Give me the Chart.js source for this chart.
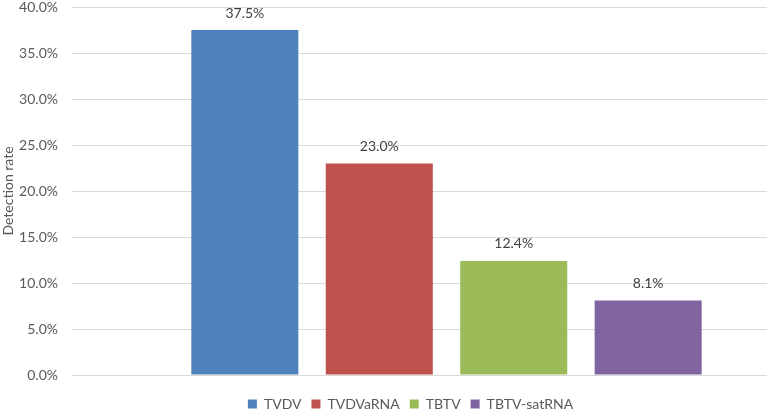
<!DOCTYPE html>
<html>
<head>
<meta charset="utf-8">
<script src="https://cdn.jsdelivr.net/npm/chart.js@4/dist/chart.umd.min.js"></script>
<style>
  html, body { margin: 0; padding: 0; background: #fff; overflow: hidden; }
  #wrap { width: 822px; height: 414px; position: relative; }
</style>
</head>
<body>
<div id="wrap"><canvas id="chart"></canvas></div>
<script>
// data
const categories = [""];
const seriesNames = ["TVDV", "TVDVaRNA", "TBTV", "TBTV-satRNA"];
const seriesValues = [37.5, 23.0, 12.4, 8.1];
const seriesColors = ["#4F81BD", "#C0504D", "#9BBB59", "#8064A2"];
const yTicks = [0, 5, 10, 15, 20, 25, 30, 35, 40];

const FONT = "Lato, 'Open Sans', sans-serif";
const TEXT = "#595959";

// value labels above each bar
const barLabels = {
  id: "barLabels",
  afterDatasetsDraw(chart) {
    const ctx = chart.ctx;
    ctx.save();
    ctx.font = "14px " + FONT;
    ctx.fillStyle = "#404040";
    ctx.textAlign = "center";
    ctx.textBaseline = "bottom";
    chart.data.datasets.forEach((ds, i) => {
      chart.getDatasetMeta(i).data.forEach((bar, j) => {
        ctx.fillText(ds.data[j].toFixed(1) + "%", bar.x, bar.y - 10);
      });
    });
    ctx.restore();
  }
};

const datasets = seriesNames.map((name, i) => ({
  label: name,
  data: [seriesValues[i]],
  backgroundColor: seriesColors[i],
  borderWidth: 0,
  categoryPercentage: 0.718,
  barPercentage: 0.796
}));

new Chart(document.getElementById("chart"), {
  type: "bar",
  data: { labels: categories, datasets: datasets },
  plugins: [barLabels],
  options: {
    responsive: true,
    maintainAspectRatio: false,
    animation: false,
    layout: { padding: { top: 7, right: 1, bottom: -7, left: 0 } },
    plugins: {
      tooltip: { enabled: false },
      legend: {
        position: "bottom",
        labels: {
          font: { family: FONT, size: 14 },
          color: TEXT,
          boxWidth: 9,
          boxHeight: 9,
          padding: 10
        }
      }
    },
    scales: {
      x: {
        grid: { display: false },
        border: { display: true, color: "#d9d9d9" },
        ticks: { display: false },
        afterFit: axis => { axis.height = 12; }
      },
      y: {
        min: 0,
        max: 40,
        afterBuildTicks: axis => { axis.ticks = yTicks.map(v => ({ value: v })); },
        afterFit: axis => {
          axis.width = 72;
          axis.paddingTop = 0;
          axis.paddingBottom = 0;
        },
        grid: { color: "#d9d9d9", drawTicks: false },
        border: { display: false },
        ticks: {
          padding: 14,
          color: TEXT,
          font: { family: FONT, size: 14 },
          callback: v => v.toFixed(1) + "%"
        },
        title: {
          display: true,
          text: "Detection rate",
          color: TEXT,
          font: { family: FONT, size: 14 },
          padding: 0
        }
      }
    }
  }
});
</script>
</body>
</html>
